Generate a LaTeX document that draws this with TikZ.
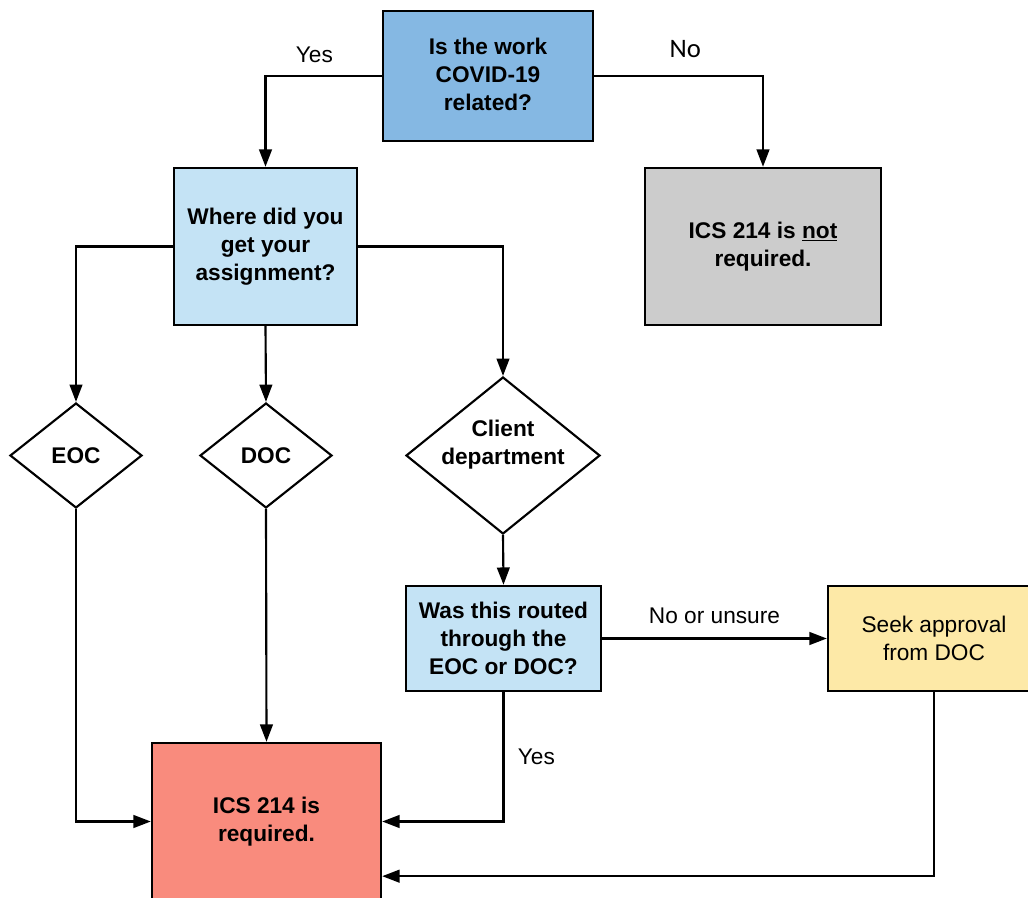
\documentclass[tikz,border=0pt]{standalone}
\usepackage{fontspec}
\setmainfont{Liberation Sans}
\newfontfamily\calibrifont{Carlito}
\usetikzlibrary{shapes,arrows.meta,positioning,calc}
\definecolor{qblue}{HTML}{85B8E3}
\definecolor{lblue}{HTML}{C4E3F5}
\definecolor{greybox}{HTML}{CCCCCC}
\definecolor{salmon}{HTML}{F98B7D}
\definecolor{sand}{HTML}{FDE9A7}

\begin{document}
\begin{tikzpicture}[x=0.75pt,y=-0.75pt,
  box/.style={draw, line width=1.8pt, align=center, inner sep=0pt,
    font=\bfseries\fontsize{17}{21}\selectfont},
  choice/.style={draw, diamond, line width=1.6pt, align=center, inner sep=0pt,
    font=\bfseries\fontsize{17}{21}\selectfont},
  arr/.style={-{Triangle[length=13pt,width=9.5pt]}, line width=1.6pt},
  lbl/.style={inner sep=0pt, font=\fontsize{17}{21}\selectfont}]
\useasboundingbox (0,0) rectangle (1028,898);
\clip (0,0) rectangle (1028,898);
\fill[white] (0,0) rectangle (1028,898);

\node[box, fill=qblue, minimum width=157.5pt, minimum height=97.5pt] (covid) at (488,76)
  {\raisebox{2pt}{Is the work}\\\raisebox{2pt}{COVID-19}\\\raisebox{2pt}{related?}};
\node[box, fill=greybox, minimum width=177pt, minimum height=117.75pt] (notreq) at (763,246.5)
  {ICS 214 is \underline{not}\\required.};
\node[box, fill=lblue, minimum width=137.25pt, minimum height=117.75pt] (where) at (265.5,246.5)
  {Where did you\\get your\\assignment?};

\node[choice, aspect=1.257, minimum width=99pt, minimum height=78.75pt] (eoc) at (76,455.5) {EOC};
\node[choice, aspect=1.257, minimum width=99pt, minimum height=78.75pt] (doc) at (266,455.5) {DOC};
\node[choice, aspect=1.236, minimum width=145.5pt, minimum height=117.75pt] (client) at (503,455.5)
  {\raisebox{4pt}[0pt][0pt]{\begin{tabular}{@{}c@{}}Client\\department\end{tabular}}};

\node[box, fill=lblue, minimum width=146.25pt, minimum height=78.75pt] (routed) at (503.5,638.5)
  {Was this routed\\through the\\EOC or DOC?};
\node[box, fill=sand, minimum width=159pt, minimum height=78.75pt,
  font=\fontsize{17}{21}\selectfont] (seek) at (934,638.5)
  {Seek approval\\from DOC};
\node[box, fill=salmon, minimum width=171.75pt, minimum height=117.75pt] (req) at (266.5,821.5)
  {ICS 214 is\\required.};

\draw[arr] (covid.west) -| node[lbl, pos=0.29, above=9pt] {Yes} (where.north);
\draw[arr] (covid.east) -| node[lbl, pos=0.27, above=13pt, font=\calibrifont\fontsize{20}{24}\selectfont] {No} (notreq.north);
\draw[arr] (where.west) -| (eoc.north);
\draw[arr] (where.south) -- (doc.north);
\draw[arr] (where.east) -| (client.north);
\draw[arr] (client.south) -- (routed.north);
\draw[arr] (routed.east) -- node[lbl, above=10.5pt] {No or unsure} (seek.west);
\draw[arr] (routed.south) |- node[lbl, pos=0.25, right=10pt] {Yes} (req.east);
\draw[arr] (eoc.south) |- (req.west);
\draw[arr] (doc.south) -- (req.north);
\draw[arr] (seek.south) |- ([yshift=-41pt]req.east);
\end{tikzpicture}
\end{document}
